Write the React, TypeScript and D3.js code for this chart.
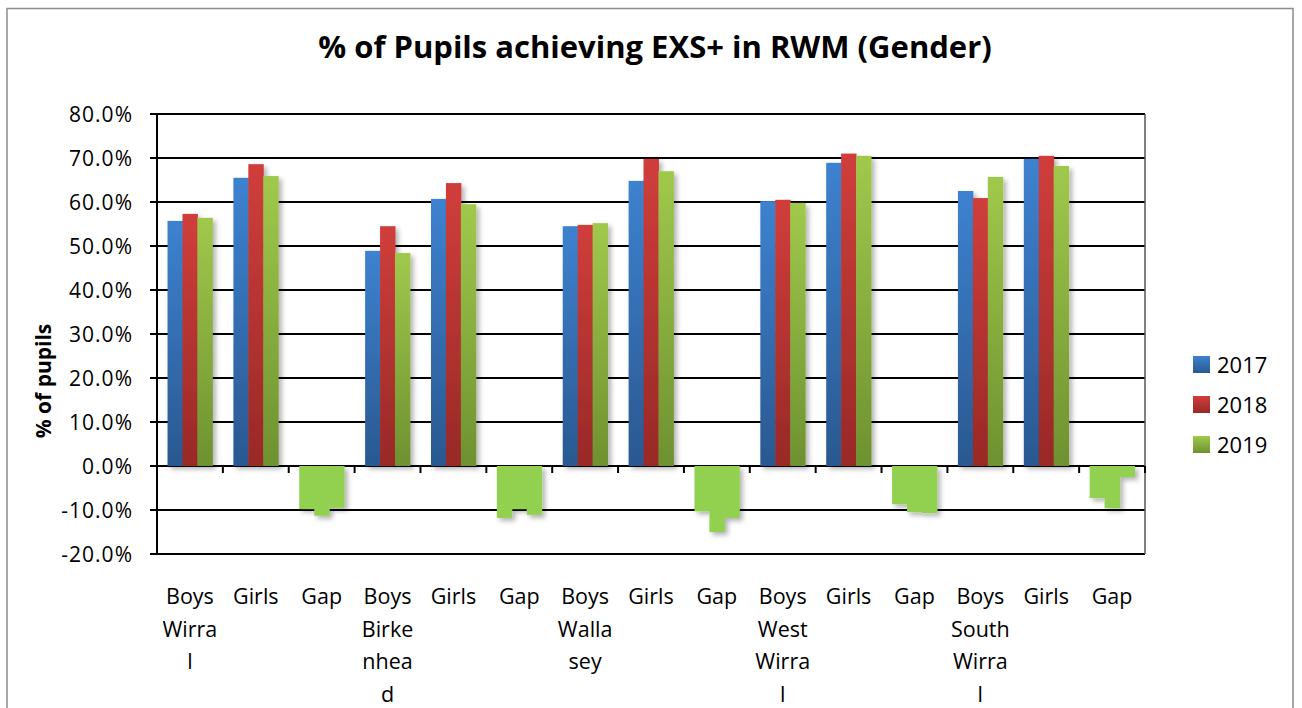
import React from "react";
import * as d3 from "d3";

const categories = [
  "Boys\nWirra\nl", "Girls", "Gap",
  "Boys\nBirke\nnhea\nd", "Girls", "Gap",
  "Boys\nWalla\nsey", "Girls", "Gap",
  "Boys\nWest\nWirra\nl", "Girls", "Gap",
  "Boys\nSouth\nWirra\nl", "Girls", "Gap",
];
const years = ["2017", "2018", "2019"];
const v2017 = [55.7, 65.5, -9.8, 48.9, 60.7, -11.8, 54.5, 64.8, -10.3, 60.2, 68.9, -8.7, 62.5, 69.8, -7.3];
const v2018 = [57.3, 68.6, -11.3, 54.5, 64.3, -9.8, 54.8, 69.8, -15.0, 60.5, 71.0, -10.5, 60.9, 70.5, -9.6];
const v2019 = [56.4, 65.9, -9.5, 48.4, 59.5, -11.1, 55.2, 67.0, -11.8, 59.8, 70.5, -10.7, 65.7, 68.2, -2.5];
const yTicks = [80, 70, 60, 50, 40, 30, 20, 10, 0, -10, -20];

const series = [v2017, v2018, v2019];
const grads = [
  ["#3d82d0", "#2a5890"],
  ["#d03e3b", "#982927"],
  ["#a0c94c", "#6e9130"],
];
const gapColor = "#92d050";
const font = "'Open Sans', 'Liberation Sans', sans-serif";

export default function App() {
  const left = 157, right = 1145, top = 114, bottom = 554;
  const x0 = d3.scaleBand<number>()
    .domain(d3.range(categories.length))
    .range([left, right])
    .paddingInner(0.32)
    .paddingOuter(0.16);
  const x1 = d3.scaleBand<number>().domain([0, 1, 2]).range([0, x0.bandwidth()]);
  const y = d3.scaleLinear().domain([-20, 80]).range([bottom, top]);
  const step = x0.step();

  return (
    <svg width={1302} height={708} style={{ position: "absolute", left: 0, top: 0 }}>
      <defs>
        {grads.map((g, i) => (
          <linearGradient key={i} id={`g${i}`} x1="0" y1="0" x2="0" y2="1">
            <stop offset="0" stopColor={g[0]} />
            <stop offset="1" stopColor={g[1]} />
          </linearGradient>
        ))}
        <filter id="sh" x="-30%" y="-10%" width="160%" height="130%">
          <feDropShadow dx="3" dy="3" stdDeviation="2.5" floodColor="#000" floodOpacity="0.3" />
        </filter>
      </defs>
      <rect x={0} y={0} width={1302} height={708} fill="#fff" />
      <rect x={7} y={8.5} width={1286} height={720} fill="none" stroke="#8c8c8c" strokeWidth={1.5} />

      <text x={655} y={58} textAnchor="middle" fontFamily={font} fontWeight="bold" fontSize={31}>
        % of Pupils achieving EXS+ in RWM (Gender)
      </text>

      {/* gridlines and y ticks */}
      {yTicks.map((t) => (
        <g key={t}>
          <line x1={left - 7} x2={right} y1={y(t)} y2={y(t)} stroke="#000" strokeWidth={2} />
          <text x={133} y={y(t) + 7.5} textAnchor="end" fontFamily={font} fontSize={21} letterSpacing={1}>
            {t.toFixed(1)}%
          </text>
        </g>
      ))}
      <line x1={left} x2={left} y1={top} y2={bottom} stroke="#000" strokeWidth={2} />
      <line x1={right} x2={right} y1={top} y2={bottom} stroke="#555" strokeWidth={1.5} />

      {/* category ticks on zero line */}
      {d3.range(categories.length + 1).map((i) => (
        <line key={i} x1={left + i * step} x2={left + i * step} y1={y(0)} y2={y(0) + 7} stroke="#000" strokeWidth={2} />
      ))}

      {/* bars */}
      {categories.map((c, ci) => (
        <g key={ci} filter="url(#sh)">
          {series.map((s, si) => {
            const v = s[ci];
            const isGap = c === "Gap";
            return (
              <rect
                key={si}
                x={(x0(ci) as number) + (x1(si) as number)}
                y={Math.min(y(v), y(0))}
                width={x1.bandwidth() + 0.5}
                height={Math.abs(y(v) - y(0))}
                fill={isGap ? gapColor : `url(#g${si})`}
              />
            );
          })}
        </g>
      ))}

      {/* category labels */}
      {categories.map((c, ci) => (
        <text key={ci} textAnchor="middle" fontFamily={font} fontSize={21.5}>
          {c.split("\n").map((ln, li) => (
            <tspan key={li} x={(x0(ci) as number) + x0.bandwidth() / 2} y={604 + li * 32.5}>
              {ln}
            </tspan>
          ))}
        </text>
      ))}

      <text
        transform={`translate(51,381) rotate(-90)`}
        textAnchor="middle"
        fontFamily={font}
        fontWeight="bold"
        fontSize={21}
      >
        % of pupils
      </text>

      {/* legend */}
      {years.map((yr, i) => (
        <g key={yr} transform={`translate(1193,${356 + i * 40})`}>
          <rect x={0} y={0} width={17} height={17} fill={`url(#g${i})`} />
          <text x={24} y={16.5} fontFamily={font} fontSize={22}>{yr}</text>
        </g>
      ))}
    </svg>
  );
}
